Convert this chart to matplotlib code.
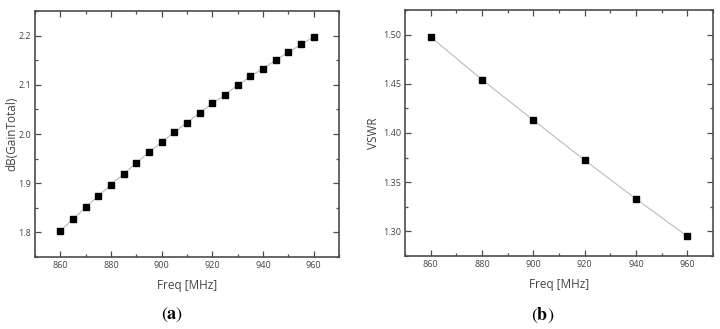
import matplotlib.pyplot as plt
from matplotlib.ticker import MultipleLocator

plt.rcParams['font.family'] = ['Open Sans', 'DejaVu Sans']
plt.rcParams['mathtext.fontset'] = 'stix'

# gain vs frequency
freq_a = [860, 865, 870, 875, 880, 885, 890, 895, 900, 905, 910,
          915, 920, 925, 930, 935, 940, 945, 950, 955, 960]
gain = [1.803, 1.827, 1.851, 1.874, 1.897, 1.919, 1.941, 1.963, 1.983, 2.004, 2.023,
        2.043, 2.062, 2.080, 2.099, 2.117, 2.133, 2.150, 2.166, 2.182, 2.197]

# vswr vs frequency
freq_b = [860, 880, 900, 920, 940, 960]
vswr = [1.4976, 1.4542, 1.4131, 1.3724, 1.3330, 1.2950]

txt = '#444444'
edge = '#4d4d4d'

fig = plt.figure(figsize=(7.2, 3.29), dpi=100)
ax1 = fig.add_axes([35/720, 72/329, 304/720, 246/329])
ax2 = fig.add_axes([405/720, 73/329, 308/720, 246/329])


def style(ax):
    for s in ax.spines.values():
        s.set_color(edge)
        s.set_linewidth(1.2)
    ax.tick_params(which='both', direction='in', top=True, right=True,
                   colors=edge, labelcolor=txt, labelsize=6.5, width=0.9, pad=3)
    ax.tick_params(which='major', length=4)
    ax.tick_params(which='minor', length=2)
    ax.set_xlim(850, 970)
    ax.xaxis.set_major_locator(MultipleLocator(20))
    ax.xaxis.set_minor_locator(MultipleLocator(10))
    ax.set_xlabel('Freq [MHz]', fontsize=8.5, color=txt)
    ax.xaxis.set_label_coords(0.5, -0.09)


ax1.plot(freq_a, gain, color='#bbbbbb', lw=0.8, marker='s', ms=4.8,
         mfc='black', mec='black')
style(ax1)
ax1.set_ylim(1.75, 2.25)
ax1.yaxis.set_major_locator(MultipleLocator(0.1))
ax1.yaxis.set_minor_locator(MultipleLocator(0.05))
ax1.set_yticks([1.8, 1.9, 2.0, 2.1, 2.2])
ax1.set_ylabel('dB(GainTotal)', fontsize=8.5, color=txt)
ax1.yaxis.set_label_coords(-0.056, 0.5)

ax2.plot(freq_b, vswr, color='#bbbbbb', lw=0.8, marker='s', ms=4.8,
         mfc='black', mec='black')
style(ax2)
ax2.set_ylim(1.275, 1.525)
ax2.yaxis.set_major_locator(MultipleLocator(0.05))
ax2.yaxis.set_minor_locator(MultipleLocator(0.025))
ax2.yaxis.set_major_formatter(lambda v, p: f'{v:.2f}')
ax2.set_ylabel('VSWR', fontsize=8.5, color=txt)
ax2.yaxis.set_label_coords(-0.081, 0.5)

fig.text(172/720, 1 - 315/329, r'$(\mathbf{a})$', ha='center', va='center', fontsize=13)
fig.text(543/720, 1 - 315/329, r'$(\mathbf{b})$', ha='center', va='center', fontsize=13)

fig.savefig('out.png', dpi=100)
